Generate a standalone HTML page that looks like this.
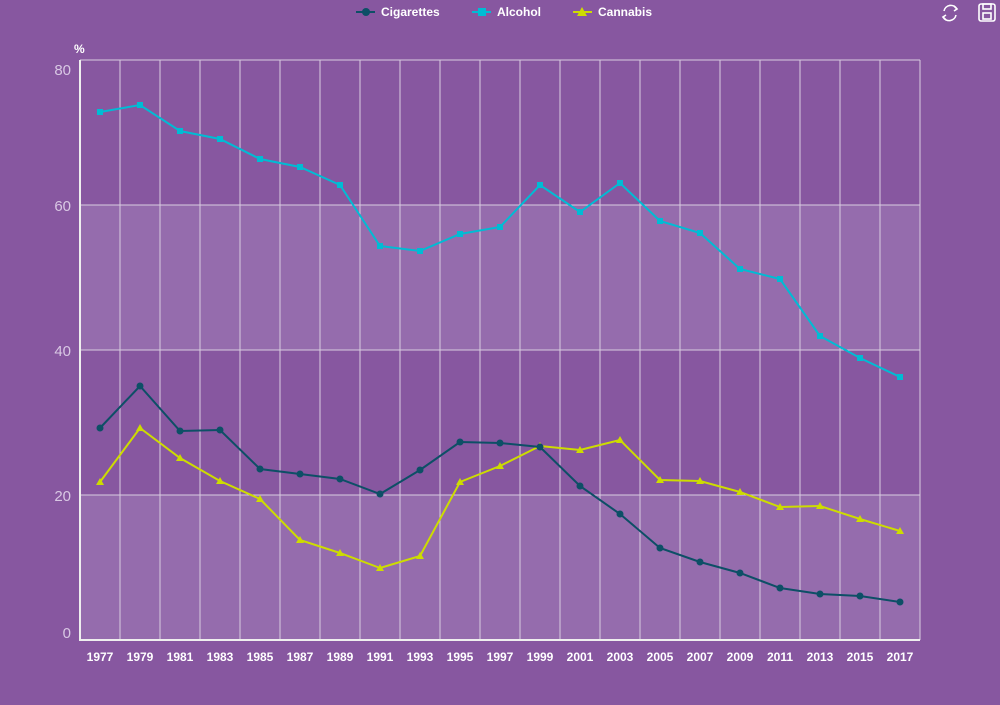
<!DOCTYPE html>
<html><head><style>
body{margin:0;width:1000px;height:700px;background:#8757a0;overflow:hidden;font-family:"Liberation Sans",sans-serif}
text{font-family:"Liberation Sans",sans-serif}
</style></head><body>
<svg width="1000" height="700" xmlns="http://www.w3.org/2000/svg">
<rect width="1000" height="700" fill="#8757a0"/>
<rect x="80" y="205" width="840" height="145" fill="#956cad"/>
<rect x="80" y="495" width="840" height="145" fill="#956cad"/>
<g stroke="#d8cce0" stroke-width="1">
<line x1="80" y1="205" x2="920" y2="205"/><line x1="80" y1="350" x2="920" y2="350"/><line x1="80" y1="495" x2="920" y2="495"/><line x1="80" y1="60" x2="920" y2="60"/>
<line x1="120" y1="60" x2="120" y2="640"/><line x1="160" y1="60" x2="160" y2="640"/><line x1="200" y1="60" x2="200" y2="640"/><line x1="240" y1="60" x2="240" y2="640"/><line x1="280" y1="60" x2="280" y2="640"/><line x1="320" y1="60" x2="320" y2="640"/><line x1="360" y1="60" x2="360" y2="640"/><line x1="400" y1="60" x2="400" y2="640"/><line x1="440" y1="60" x2="440" y2="640"/><line x1="480" y1="60" x2="480" y2="640"/><line x1="520" y1="60" x2="520" y2="640"/><line x1="560" y1="60" x2="560" y2="640"/><line x1="600" y1="60" x2="600" y2="640"/><line x1="640" y1="60" x2="640" y2="640"/><line x1="680" y1="60" x2="680" y2="640"/><line x1="720" y1="60" x2="720" y2="640"/><line x1="760" y1="60" x2="760" y2="640"/><line x1="800" y1="60" x2="800" y2="640"/><line x1="840" y1="60" x2="840" y2="640"/><line x1="880" y1="60" x2="880" y2="640"/><line x1="920" y1="60" x2="920" y2="640"/>
</g>
<line x1="80" y1="60" x2="80" y2="641" stroke="#eee" stroke-width="2"/>
<line x1="79" y1="640" x2="920" y2="640" stroke="#eee" stroke-width="2"/>
<g fill="#d9c8e4" font-size="15" text-anchor="end">
<text x="71" y="75">80</text><text x="71" y="211">60</text><text x="71" y="356">40</text><text x="71" y="501">20</text><text x="71" y="638">0</text>
</g>
<text x="74" y="53" fill="#fff" font-size="12" font-weight="bold">%</text>
<g fill="#fff" font-size="12" font-weight="bold" text-anchor="middle">
<text x="100" y="661">1977</text><text x="140" y="661">1979</text><text x="180" y="661">1981</text><text x="220" y="661">1983</text><text x="260" y="661">1985</text><text x="300" y="661">1987</text><text x="340" y="661">1989</text><text x="380" y="661">1991</text><text x="420" y="661">1993</text><text x="460" y="661">1995</text><text x="500" y="661">1997</text><text x="540" y="661">1999</text><text x="580" y="661">2001</text><text x="620" y="661">2003</text><text x="660" y="661">2005</text><text x="700" y="661">2007</text><text x="740" y="661">2009</text><text x="780" y="661">2011</text><text x="820" y="661">2013</text><text x="860" y="661">2015</text><text x="900" y="661">2017</text>
</g>
<polyline fill="none" stroke="#00bcd4" stroke-width="2" points="100,112 140,105 180,131 220,139 260,159 300,167 340,185 380,246 420,251 460,234 500,227 540,185 580,212 620,183 660,221 700,233 740,269 780,279 820,336 860,358 900,377"/>
<g fill="#00bcd4">
<rect x="97" y="109" width="6" height="6"/><rect x="137" y="102" width="6" height="6"/><rect x="177" y="128" width="6" height="6"/><rect x="217" y="136" width="6" height="6"/><rect x="257" y="156" width="6" height="6"/><rect x="297" y="164" width="6" height="6"/><rect x="337" y="182" width="6" height="6"/><rect x="377" y="243" width="6" height="6"/><rect x="417" y="248" width="6" height="6"/><rect x="457" y="231" width="6" height="6"/><rect x="497" y="224" width="6" height="6"/><rect x="537" y="182" width="6" height="6"/><rect x="577" y="209" width="6" height="6"/><rect x="617" y="180" width="6" height="6"/><rect x="657" y="218" width="6" height="6"/><rect x="697" y="230" width="6" height="6"/><rect x="737" y="266" width="6" height="6"/><rect x="777" y="276" width="6" height="6"/><rect x="817" y="333" width="6" height="6"/><rect x="857" y="355" width="6" height="6"/><rect x="897" y="374" width="6" height="6"/>
</g>
<polyline fill="none" stroke="#cddc00" stroke-width="2" points="100,482 140,428 180,458 220,481 260,499 300,540 340,553 380,568 420,556 460,482 500,466 540,446 580,450 620,440 660,480 700,481 740,492 780,507 820,506 860,519 900,531"/>
<g fill="#cddc00">
<path d="M100,478l4,7h-8z M140,424l4,7h-8z M180,454l4,7h-8z M220,477l4,7h-8z M260,495l4,7h-8z M300,536l4,7h-8z M340,549l4,7h-8z M380,564l4,7h-8z M420,552l4,7h-8z M460,478l4,7h-8z M500,462l4,7h-8z M540,442l4,7h-8z M580,446l4,7h-8z M620,436l4,7h-8z M660,476l4,7h-8z M700,477l4,7h-8z M740,488l4,7h-8z M780,503l4,7h-8z M820,502l4,7h-8z M860,515l4,7h-8z M900,527l4,7h-8z"/>
</g>
<polyline fill="none" stroke="#0d4f66" stroke-width="2" points="100,428 140,386 180,431 220,430 260,469 300,474 340,479 380,494 420,470 460,442 500,443 540,447 580,486 620,514 660,548 700,562 740,573 780,588 820,594 860,596 900,602"/>
<g fill="#0d4f66">
<circle cx="100" cy="428" r="3.5"/><circle cx="140" cy="386" r="3.5"/><circle cx="180" cy="431" r="3.5"/><circle cx="220" cy="430" r="3.5"/><circle cx="260" cy="469" r="3.5"/><circle cx="300" cy="474" r="3.5"/><circle cx="340" cy="479" r="3.5"/><circle cx="380" cy="494" r="3.5"/><circle cx="420" cy="470" r="3.5"/><circle cx="460" cy="442" r="3.5"/><circle cx="500" cy="443" r="3.5"/><circle cx="540" cy="447" r="3.5"/><circle cx="580" cy="486" r="3.5"/><circle cx="620" cy="514" r="3.5"/><circle cx="660" cy="548" r="3.5"/><circle cx="700" cy="562" r="3.5"/><circle cx="740" cy="573" r="3.5"/><circle cx="780" cy="588" r="3.5"/><circle cx="820" cy="594" r="3.5"/><circle cx="860" cy="596" r="3.5"/><circle cx="900" cy="602" r="3.5"/>
</g>
<g font-size="12" font-weight="bold" fill="#fff">
<line x1="356" y1="12" x2="375" y2="12" stroke="#0d4f66" stroke-width="2"/><circle cx="366" cy="12" r="4" fill="#0d4f66"/><text x="381" y="16">Cigarettes</text>
<line x1="472" y1="12" x2="491" y2="12" stroke="#00bcd4" stroke-width="2"/><rect x="478" y="8" width="8" height="8" fill="#00bcd4"/><text x="497" y="16">Alcohol</text>
<line x1="573" y1="12" x2="592" y2="12" stroke="#cddc00" stroke-width="2"/><path d="M582,7l5,9h-10z" fill="#cddc00"/><text x="598" y="16">Cannabis</text>
</g>
<g fill="none" stroke="#fff" stroke-width="1.6">
<path d="M957,9a7,7 0 0 0-13,2 M943,17a7,7 0 0 0 13,-2"/><path d="M954,6l3,3l-3,2 M946,20l-3,-3l3,-2"/>
<rect x="979" y="4" width="16" height="17" rx="2"/><rect x="983" y="4" width="8" height="5"/><rect x="983" y="13" width="8" height="6"/>
</g>
</svg>
</body></html>
